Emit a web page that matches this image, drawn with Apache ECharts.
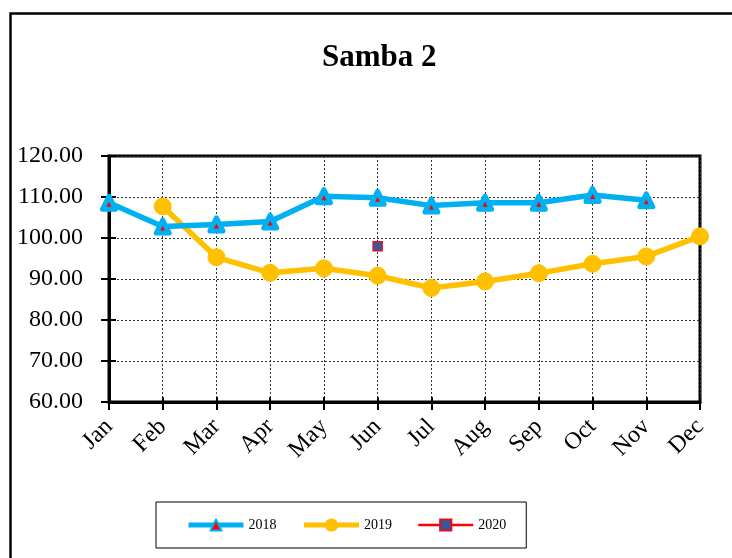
<!DOCTYPE html>
<html>
<head>
<meta charset="utf-8">
<script src="https://cdn.jsdelivr.net/npm/echarts@6/dist/echarts.min.js"></script>
<style>
  html, body { margin: 0; padding: 0; background: #fff; }
  #chart { width: 732px; height: 558px; }
</style>
</head>
<body>
<div id="chart"></div>
<script>
'use strict';

var months = ['Jan', 'Feb', 'Mar', 'Apr', 'May', 'Jun', 'Jul', 'Aug', 'Sep', 'Oct', 'Nov', 'Dec'];
var values2018 = [108.6, 102.8, 103.3, 104.0, 110.2, 109.8, 107.9, 108.6, 108.6, 110.5, 109.2, null];
var values2019 = [null, 107.7, 95.3, 91.5, 92.6, 90.8, 87.8, 89.4, 91.4, 93.7, 95.5, 100.4];
var values2020 = [null, null, null, null, null, 98.0, null, null, null, null, null, null];

var serif = '"Liberation Serif", "Times New Roman", serif';

var option = {
    animation: false,
    backgroundColor: '#fff',
    graphic: [{
        type: 'rect',
        left: 8, top: 11,
        shape: { width: 800, height: 600 },
        style: { fill: 'none', stroke: '#000', lineWidth: 2.5 },
        silent: true
    }],
    title: {
        text: 'Samba 2',
        left: 322,
        top: 42,
        padding: 0,
        textStyle: { fontFamily: serif, fontSize: 31, fontWeight: 'bold', color: '#000' }
    },
    legend: {
        left: 156,
        top: 502,
        padding: [16, 20, 16, 30],
        borderColor: '#000',
        borderWidth: 1,
        itemWidth: 55,
        itemHeight: 14,
        itemGap: 25,
        textStyle: { fontFamily: serif, fontSize: 14, color: '#000' },
        data: [
            { name: '2018', lineStyle: { width: 5 } },
            { name: '2019', lineStyle: { width: 5 } },
            { name: '2020', lineStyle: { width: 2.5 } }
        ]
    },
    grid: {
        left: 109, top: 156, right: 32, bottom: 156,
        show: true,
        borderColor: '#000',
        borderWidth: 3
    },
    xAxis: [{
        type: 'category',
        data: months,
        boundaryGap: false,
        axisLine: { lineStyle: { color: '#000', width: 3 } },
        axisTick: { show: true, length: 8, lineStyle: { color: '#000', width: 2 } },
        axisLabel: { rotate: 45, margin: 21, fontFamily: serif, fontSize: 24, color: '#000' },
        splitLine: { show: true, lineStyle: { color: '#333', type: [2, 2], width: 1 } }
    }, {
        type: 'category',
        data: months,
        position: 'bottom',
        boundaryGap: false,
        axisLine: { show: false },
        axisTick: { show: true, inside: true, length: 5, lineStyle: { color: '#000', width: 2 } },
        axisLabel: { show: false },
        splitLine: { show: false }
    }],
    yAxis: [{
        type: 'value',
        min: 60, max: 120, interval: 10,
        axisLine: { show: true, lineStyle: { color: '#000', width: 3 } },
        axisTick: { show: true, length: 8, lineStyle: { color: '#000', width: 2 } },
        axisLabel: {
            margin: 26, fontFamily: serif, fontSize: 24, color: '#000',
            formatter: function (v) { return v.toFixed(2); }
        },
        splitLine: { show: true, lineStyle: { color: '#333', type: [2, 2], width: 1 } }
    }, {
        type: 'value',
        min: 60, max: 120, interval: 10,
        position: 'left',
        axisLine: { show: false },
        axisTick: { show: true, inside: true, length: 7, lineStyle: { color: '#000', width: 2 } },
        axisLabel: { show: false },
        splitLine: { show: false }
    }],
    series: [{
        name: '2018',
        type: 'line',
        data: values2018,
        symbol: 'triangle',
        symbolSize: 13,
        lineStyle: { color: '#00B0F0', width: 5.5 },
        itemStyle: { color: '#FF0000', borderColor: '#00B0F0', borderWidth: 5, borderJoin: 'round' },
        z: 3
    }, {
        name: '2019',
        type: 'line',
        data: values2019,
        symbol: 'circle',
        symbolSize: 17,
        lineStyle: { color: '#FFC000', width: 5.5 },
        itemStyle: { color: '#FFC000', borderColor: '#FFC000', borderWidth: 1 },
        z: 2
    }, {
        name: '2020',
        type: 'line',
        data: values2020,
        symbol: 'rect',
        symbolSize: 9,
        lineStyle: { color: '#FF0000', width: 2 },
        itemStyle: { color: '#34589C', borderColor: '#E0101F', borderWidth: 1.5 },
        z: 4
    }]
};

var myChart = echarts.init(document.getElementById('chart'));
myChart.setOption(option);
</script>
</body>
</html>
